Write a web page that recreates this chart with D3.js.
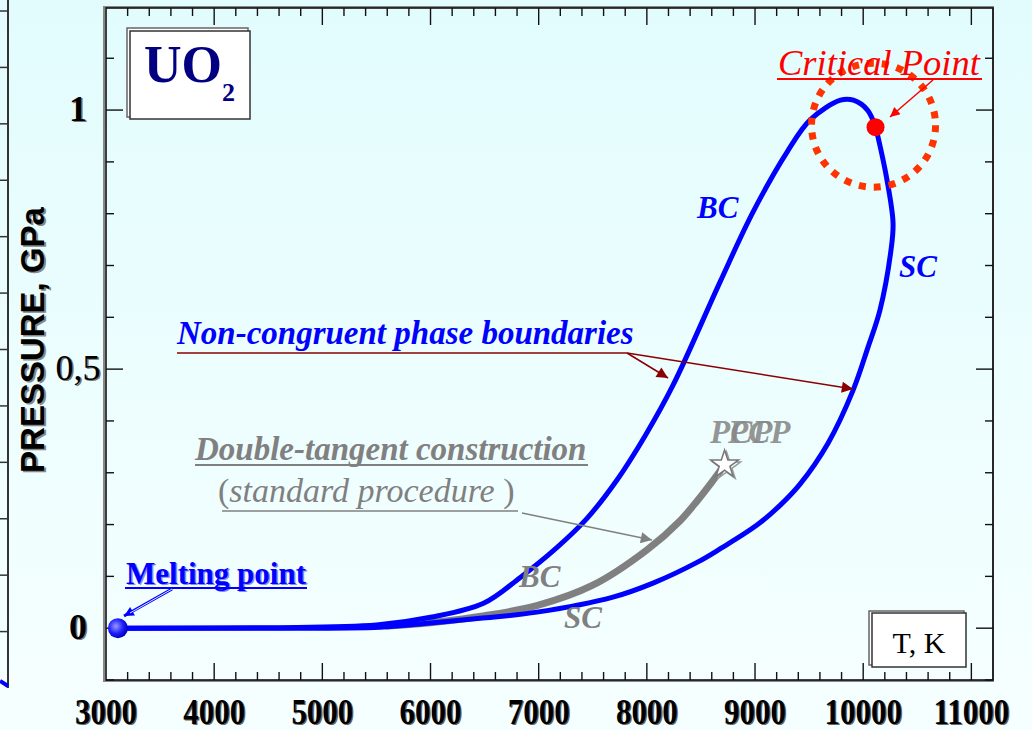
<!DOCTYPE html>
<html>
<head>
<meta charset="utf-8">
<script src="https://cdn.jsdelivr.net/npm/d3@7"></script>
<style>
  html, body { margin: 0; padding: 0; background: #effefe; }
  svg { display: block; }
</style>
</head>
<body>
<div id="chart"></div>
<script>
// phase boundary curves, [T (K), P (GPa)]
const bcCurve = [
  [3110, 0], [4500, 0.001], [5500, 0.006], [6000, 0.021], [6490, 0.048], [6830, 0.098],
  [7170, 0.156], [7447, 0.212], [7724, 0.286], [7983, 0.371], [8242, 0.469],
  [8676, 0.668], [8981, 0.803], [9296, 0.919], [9510, 0.981], [9790, 1.019],
  [9910, 1.019], [10040, 1.0], [10114, 0.967]
];
const scCurve = [
  [10114, 0.967], [10137, 0.948], [10220, 0.865], [10276, 0.782], [10257, 0.73],
  [10155, 0.614], [10044, 0.542], [9906, 0.459], [9675, 0.357], [9416, 0.278],
  [9231, 0.237], [9018, 0.199], [8676, 0.153], [8464, 0.127], [8057, 0.087],
  [7687, 0.06], [6984, 0.031], [6458, 0.019], [5996, 0.01], [5533, 0.002],
  [4500, 0], [3110, 0]
];
const dtCurve = [
  [5600, 0.004], [6060, 0.012], [6500, 0.024], [6990, 0.044], [7500, 0.083],
  [8000, 0.151], [8310, 0.208], [8470, 0.247], [8615, 0.286], [8700, 0.31]
];
const meltingPoint = [3110, 0];
const criticalPoint = [10114, 0.967];
const pcpPoint = [8700, 0.31];

const xTicks = d3.range(3000, 11001, 200);
const xMajor = [3000, 4000, 5000, 6000, 7000, 8000, 9000, 10000, 11000];
const yTicks = d3.range(-1, 12).map(d => d / 10);
const yMajor = [0, 0.5, 1];
const yLabels = ['0', '0,5', '1'];

const W = 1032, H = 730;
const pLeft = 106, pRight = 993, pTop = 8, pBottom = 680;

const x = d3.scaleLinear().domain([3000, 11200]).range([pLeft, pRight]);
const y = d3.scaleLinear().domain([-0.1, 1.197]).range([pBottom, pTop]);

const svg = d3.select('#chart').append('svg')
  .attr('width', W).attr('height', H);

const defs = svg.append('defs');
const bg = defs.append('linearGradient').attr('id', 'bg')
  .attr('x1', 0).attr('y1', 0).attr('x2', 0).attr('y2', 1);
bg.append('stop').attr('offset', '0%').attr('stop-color', '#e2fcfd');
bg.append('stop').attr('offset', '100%').attr('stop-color', '#f6ffff');

const mg = defs.append('radialGradient').attr('id', 'mg')
  .attr('cx', '40%').attr('cy', '40%').attr('r', '60%');
mg.append('stop').attr('offset', '0%').attr('stop-color', '#9a9aff');
mg.append('stop').attr('offset', '60%').attr('stop-color', '#2020ff');
mg.append('stop').attr('offset', '100%').attr('stop-color', '#0000c0');

function marker(id, color, size) {
  defs.append('marker').attr('id', id)
    .attr('viewBox', '0 0 10 10').attr('refX', 10).attr('refY', 5)
    .attr('markerWidth', size).attr('markerHeight', size * 0.7)
    .attr('markerUnits', 'userSpaceOnUse')
    .attr('orient', 'auto')
    .append('path').attr('d', 'M0,0 L10,5 L0,10 Z').attr('fill', color);
}
marker('arrRed', '#8b0000', 16);
marker('arrGray', '#808080', 16);
marker('arrCp', '#ff0000', 14);
marker('arrBlue', '#0000ff', 14);

svg.append('rect').attr('width', W).attr('height', H).attr('fill', 'url(#bg)');

// fragment of neighbouring panel on the left edge
const yFrag = d3.scaleLinear().domain([0, 12]).range([11, 688]);
svg.append('line').attr('x1', 8).attr('x2', 8).attr('y1', 0).attr('y2', 688)
  .attr('stroke', '#333').attr('stroke-width', 2);
svg.selectAll('.frag').data(d3.range(0, 12)).enter().append('line')
  .attr('x1', 0).attr('x2', 8).attr('y1', d => yFrag(d)).attr('y2', d => yFrag(d))
  .attr('stroke', '#333').attr('stroke-width', 1.5);
svg.append('path').attr('d', 'M0,681 L8,686').attr('stroke', '#0000ff').attr('stroke-width', 4);

// frame with shadow
svg.append('rect').attr('x', pLeft - 2).attr('y', pTop - 1).attr('width', pRight - pLeft + 2).attr('height', pBottom - pTop + 2)
  .attr('fill', 'none').attr('stroke', '#888').attr('stroke-width', 2);
svg.append('rect').attr('x', pLeft).attr('y', pTop).attr('width', pRight - pLeft).attr('height', pBottom - pTop)
  .attr('fill', 'none').attr('stroke', '#111').attr('stroke-width', 1.6);

// ticks (inward on all four sides)
const tk = svg.append('g').attr('stroke', '#111').attr('stroke-width', 1.4);
xTicks.filter(d => d > 3000).forEach(d => {
  const len = xMajor.includes(d) ? 17 : 8;
  tk.append('line').attr('x1', x(d)).attr('x2', x(d)).attr('y1', pBottom).attr('y2', pBottom - len);
  tk.append('line').attr('x1', x(d)).attr('x2', x(d)).attr('y1', pTop).attr('y2', pTop + len);
});
yTicks.forEach(d => {
  const len = yMajor.some(m => Math.abs(m - d) < 1e-9) ? 17 : 8;
  tk.append('line').attr('x1', pLeft).attr('x2', pLeft + len).attr('y1', y(d)).attr('y2', y(d));
  tk.append('line').attr('x1', pRight).attr('x2', pRight - len).attr('y1', y(d)).attr('y2', y(d));
});

// tick labels with shadow
const serif = '"Liberation Serif", "Times New Roman", serif';
xMajor.forEach(d => {
  const g = svg.append('g').attr('transform', `translate(${x(d)},724) scale(0.86,1)`);
  g.append('text').attr('x', 1.5).attr('y', 1).attr('text-anchor', 'middle')
    .attr('font-family', serif).attr('font-weight', 'bold').attr('font-size', 36)
    .attr('fill', '#666').text(d);
  g.append('text').attr('text-anchor', 'middle')
    .attr('font-family', serif).attr('font-weight', 'bold').attr('font-size', 36)
    .attr('fill', '#000').text(d);
});
yMajor.forEach((d, i) => {
  [['#777', 1.5], ['#000', 0]].forEach(([c, o]) => {
    svg.append('text').attr('x', 78 + o).attr('y', y(d) + 11 + o * 0.6).attr('text-anchor', 'middle')
      .attr('font-family', serif).attr('font-weight', d === 0.5 ? 'normal' : 'bold').attr('font-size', 36)
      .attr('fill', c).text(yLabels[i]);
  });
});

// y axis title
[['#888', 1.5], ['#000', 0]].forEach(([c, o]) => {
  svg.append('text')
    .attr('transform', `translate(${44 + o},${340 + o}) rotate(-90)`)
    .attr('text-anchor', 'middle')
    .attr('font-family', '"Liberation Sans", Arial, sans-serif').attr('font-weight', 'bold')
    .attr('font-size', 33).attr('fill', c).text('PRESSURE, GPa');
});

// UO2 label box
svg.append('rect').attr('x', 127).attr('y', 28).attr('width', 121).attr('height', 89)
  .attr('fill', '#fff').attr('stroke', '#666').attr('stroke-width', 1.5);
svg.append('rect').attr('x', 130).attr('y', 31).attr('width', 120).attr('height', 88)
  .attr('fill', '#fff').attr('stroke', '#333').attr('stroke-width', 1.5);
const uo = svg.append('text').attr('x', 144).attr('y', 82)
  .attr('font-family', serif).attr('font-weight', 'bold').attr('fill', '#000080');
uo.append('tspan').attr('font-size', 52).text('UO');
uo.append('tspan').attr('font-size', 26).attr('dy', 19).text('2');

// T, K label box
svg.append('rect').attr('x', 869).attr('y', 611).attr('width', 95).attr('height', 54)
  .attr('fill', '#fff').attr('stroke', '#666').attr('stroke-width', 1.5);
svg.append('rect').attr('x', 872).attr('y', 613).attr('width', 94).attr('height', 54)
  .attr('fill', '#fff').attr('stroke', '#333').attr('stroke-width', 1.5);
svg.append('text').attr('x', 919).attr('y', 653).attr('text-anchor', 'middle')
  .attr('font-family', serif).attr('font-size', 30).attr('fill', '#000').text('T, K');

// curves
const line = d3.line().x(d => x(d[0])).y(d => y(d[1])).curve(d3.curveCatmullRom.alpha(0.5));

svg.append('path').datum(dtCurve).attr('d', line)
  .attr('fill', 'none').attr('stroke', '#808080').attr('stroke-width', 7).attr('stroke-linecap', 'round');
svg.append('path').datum(scCurve).attr('d', line)
  .attr('fill', 'none').attr('stroke', '#0000ff').attr('stroke-width', 5);
svg.append('path').datum(bcCurve).attr('d', line)
  .attr('fill', 'none').attr('stroke', '#0000ff').attr('stroke-width', 5);

// PCP star
const star = d3.symbol().type(d3.symbolStar).size(240);
svg.append('path').attr('d', star)
  .attr('transform', `translate(${x(pcpPoint[0]) + 4},${y(pcpPoint[1]) - 1})`)
  .attr('fill', 'none').attr('stroke', '#999').attr('stroke-width', 1.5);
svg.append('path').attr('d', star)
  .attr('transform', `translate(${x(pcpPoint[0]) + 2},${y(pcpPoint[1]) - 3})`)
  .attr('fill', '#fff').attr('stroke', '#777').attr('stroke-width', 1.5);
['PCP', 'PCP'].forEach((t, i) => {
  svg.append('text').attr('x', 710 + i * 18).attr('y', 443)
    .attr('font-family', serif).attr('font-weight', 'bold').attr('font-style', 'italic')
    .attr('font-size', 33).attr('fill', '#888').attr('fill-opacity', 0.9).text(t);
});

// critical point
svg.append('circle').attr('cx', x(criticalPoint[0]) - 2).attr('cy', y(criticalPoint[1]) - 2).attr('r', 62)
  .attr('fill', 'none').attr('stroke', '#ff3300').attr('stroke-width', 7).attr('stroke-dasharray', '7 8');
svg.append('circle').attr('cx', x(criticalPoint[0])).attr('cy', y(criticalPoint[1])).attr('r', 9)
  .attr('fill', '#ff0000');
svg.append('text').attr('x', 778).attr('y', 75)
  .attr('font-family', serif).attr('font-style', 'italic').attr('font-size', 36.5)
  .attr('fill', '#ff0000').text('Critical Point');
svg.append('line').attr('x1', 777).attr('x2', 982).attr('y1', 79).attr('y2', 79)
  .attr('stroke', '#ff0000').attr('stroke-width', 2);
svg.append('line').attr('x1', 933).attr('y1', 80).attr('x2', 890).attr('y2', 117)
  .attr('stroke', '#ff0000').attr('stroke-width', 1.5).attr('marker-end', 'url(#arrCp)');

// melting point
svg.append('circle').attr('cx', x(meltingPoint[0])).attr('cy', y(meltingPoint[1])).attr('r', 10)
  .attr('fill', 'url(#mg)');
[['#8888ff', 1.5], ['#0000ff', 0]].forEach(([c, o]) => {
  svg.append('text').attr('x', 126 + o).attr('y', 584 + o * 0.6)
    .attr('font-family', serif).attr('font-weight', 'bold').attr('font-size', 31)
    .attr('fill', c).text('Melting point');
});
svg.append('line').attr('x1', 125).attr('x2', 307).attr('y1', 588).attr('y2', 588)
  .attr('stroke', '#0000ff').attr('stroke-width', 2);
svg.append('line').attr('x1', 172).attr('y1', 589).attr('x2', 124).attr('y2', 616)
  .attr('stroke', '#0000ff').attr('stroke-width', 3).attr('marker-end', 'url(#arrBlue)');
svg.append('line').attr('x1', 172).attr('y1', 589).attr('x2', 130).attr('y2', 613)
  .attr('stroke', '#ddeeff').attr('stroke-width', 1);

// Non-congruent phase boundaries annotation
svg.append('text').attr('x', 177).attr('y', 344)
  .attr('font-family', serif).attr('font-weight', 'bold').attr('font-style', 'italic')
  .attr('font-size', 33).attr('fill', '#0000ff').text('Non-congruent phase boundaries');
svg.append('line').attr('x1', 177).attr('x2', 627).attr('y1', 353).attr('y2', 353)
  .attr('stroke', '#8b0000').attr('stroke-width', 1.5);
svg.append('line').attr('x1', 627).attr('y1', 353).attr('x2', 668).attr('y2', 378)
  .attr('stroke', '#8b0000').attr('stroke-width', 1.5).attr('marker-end', 'url(#arrRed)');
svg.append('line').attr('x1', 627).attr('y1', 353).attr('x2', 853).attr('y2', 389)
  .attr('stroke', '#8b0000').attr('stroke-width', 1.5).attr('marker-end', 'url(#arrRed)');

// double-tangent annotation
svg.append('text').attr('x', 195).attr('y', 460)
  .attr('font-family', serif).attr('font-weight', 'bold').attr('font-style', 'italic')
  .attr('font-size', 33).attr('fill', '#808080').text('Double-tangent construction');
svg.append('line').attr('x1', 195).attr('x2', 588).attr('y1', 465).attr('y2', 465)
  .attr('stroke', '#808080').attr('stroke-width', 2);
const sp = svg.append('text').attr('x', 218).attr('y', 502)
  .attr('font-family', serif).attr('font-size', 34).attr('fill', '#808080');
sp.append('tspan').text('(');
sp.append('tspan').attr('font-style', 'italic').text('standard procedure ');
sp.append('tspan').text(')');
svg.append('line').attr('x1', 222).attr('x2', 518).attr('y1', 511).attr('y2', 511)
  .attr('stroke', '#808080').attr('stroke-width', 1.5);
svg.append('line').attr('x1', 522).attr('y1', 513).attr('x2', 652).attr('y2', 540)
  .attr('stroke', '#808080').attr('stroke-width', 1.5).attr('marker-end', 'url(#arrGray)');

// curve labels
const curveLabel = (tx, ty, t, c) => svg.append('text').attr('x', tx).attr('y', ty)
  .attr('font-family', serif).attr('font-weight', 'bold').attr('font-style', 'italic')
  .attr('font-size', 31).attr('fill', c).text(t);
curveLabel(697, 218, 'BC', '#0000ff');
curveLabel(899, 277, 'SC', '#0000ff');
curveLabel(519, 587, 'BC', '#808080');
curveLabel(564, 628, 'SC', '#808080');
</script>
</body>
</html>
